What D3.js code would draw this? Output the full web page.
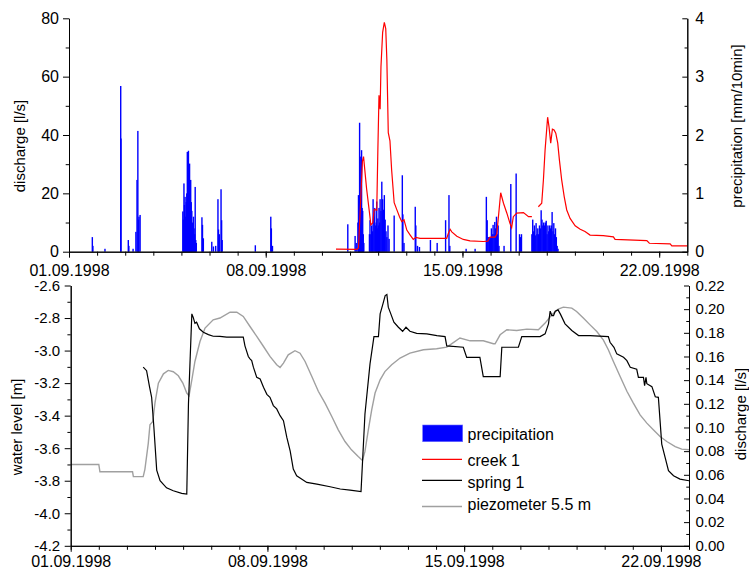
<!DOCTYPE html>
<html>
<head>
<meta charset="utf-8">
<script src="https://cdn.jsdelivr.net/npm/d3@7"></script>
<style>
  body { margin: 0; background: #fff; }
  text { font-family: "Liberation Sans", Arial, sans-serif; fill: #000; }
</style>
</head>
<body>
<svg id="chart" width="749" height="570"></svg>
<script>
// ---- data (time in days after 01.09.1998 00:00) ----
const dateTicks = ["01.09.1998", "08.09.1998", "15.09.1998", "22.09.1998"];
const dischargeTicks = [0, 20, 40, 60, 80];
const precipTicks = [0, 1, 2, 3, 4];
const levelTicks = [-4.2, -4.0, -3.8, -3.6, -3.4, -3.2, -3.0, -2.8, -2.6];
const springTicks = [0, 0.02, 0.04, 0.06, 0.08, 0.10, 0.12, 0.14, 0.16, 0.18, 0.20, 0.22];

// precipitation, mm per 10 min
const precipDay = [0.83, 0.85, 1.28, 1.84, 1.85, 2.11, 2.13, 2.28, 2.38, 2.42, 2.45, 2.47, 2.49, 2.53,
  4.05, 4.07, 4.09, 4.11, 4.13, 4.15, 4.17, 4.19, 4.21, 4.23, 4.25, 4.27, 4.29, 4.31, 4.33, 4.35, 4.37, 4.39,
  4.41, 4.43, 4.45, 4.47, 4.49, 4.51, 4.53, 4.73, 4.75, 4.78, 5.08, 5.14, 5.22, 5.30, 5.32, 5.35, 5.41, 5.43, 5.45,
  6.63, 7.18, 7.20, 7.24,
  9.92, 10.18, 10.22, 10.28, 10.30, 10.32, 10.34, 10.36, 10.38, 10.41, 10.43, 10.45, 10.47, 10.49,
  10.69, 10.71, 10.74, 10.77, 10.80, 10.82, 10.85, 10.88, 10.91, 10.93, 10.95, 10.97, 10.99, 11.01, 11.03,
  11.05, 11.07, 11.10, 11.13, 11.16, 11.19, 11.22, 11.25, 11.28, 11.31, 11.35, 11.39,
  11.57, 11.86, 11.88, 11.92, 12.32, 12.34, 12.40, 12.47, 12.86, 13.10, 13.40, 13.52, 13.55, 14.13, 14.45,
  14.85, 14.88, 14.91, 14.94, 14.97, 15.00, 15.03, 15.06, 15.09, 15.12, 15.15, 15.18, 15.21, 15.24, 15.27, 15.30,
  15.48, 15.72, 15.91, 16.03, 16.06, 16.10,
  16.47, 16.50, 16.53, 16.56, 16.59, 16.62, 16.65, 16.68, 16.71, 16.74, 16.77, 16.80, 16.83, 16.86, 16.89,
  16.92, 16.95, 16.98, 17.01, 17.04, 17.07, 17.10, 17.13, 17.16, 17.19, 17.22, 17.25, 17.28, 17.31, 17.34,
  17.37, 17.40];
const precipMm = [0.25, 0.10, 0.05, 2.84, 1.94, 0.20, 0.10, 0.05, 0.34, 1.23, 2.07, 0.55, 0.60, 0.63,
  0.69, 0.55, 1.17, 0.80, 0.94, 0.60, 0.85, 1.00, 1.71, 1.30, 1.73, 1.11, 1.51, 1.00, 1.23, 0.85, 0.70, 0.50,
  0.35, 0.60, 0.40, 0.30, 1.11, 0.20, 0.15, 0.59, 0.46, 0.23, 0.17, 0.09, 0.10, 0.90, 0.38, 0.30, 1.07, 0.54, 0.20,
  0.11, 0.60, 0.40, 0.10,
  0.47, 0.27, 0.15, 0.50, 0.97, 0.75, 2.21, 1.63, 0.80, 1.74, 0.75, 0.70, 0.30, 0.15,
  0.30, 0.54, 0.30, 0.45, 0.35, 0.90, 0.60, 0.75, 0.45, 0.50, 0.86, 0.40, 0.57, 0.45, 0.75,
  0.50, 0.90, 0.70, 1.20, 0.90, 0.72, 0.97, 0.55, 0.35, 0.25, 0.45, 0.22,
  0.62, 1.31, 0.64, 0.15, 0.77, 0.45, 0.10, 0.08, 0.20, 0.15, 0.54, 0.97, 0.10, 0.05, 0.05,
  0.94, 0.54, 0.25, 0.25, 0.25, 0.25, 0.40, 0.30, 0.46, 0.30, 0.51, 0.40, 0.60, 0.30, 0.45, 0.10,
  0.10, 1.16, 1.34, 0.30, 0.25, 0.30,
  0.30, 0.55, 0.35, 0.45, 0.28, 0.49, 0.30, 0.40, 0.30, 0.45, 0.40, 0.71, 0.55, 0.45, 0.50,
  0.45, 0.50, 0.53, 0.30, 0.45, 0.35, 0.45, 0.40, 0.45, 0.68, 0.35, 0.49, 0.30, 0.40, 0.25,
  0.10, 0.05];

// creek 1 discharge, l/s (null = no record)
const creekDay = [9.50, 10.24, 10.30, 10.38, 10.44, 10.48, 10.59, 10.69, 10.74, 10.81, 10.86, 10.95, 10.99,
  11.03, 11.07, 11.10, 11.16, 11.22, 11.27, 11.31, 11.36, 11.42, 11.48, 11.57, 11.66, 11.76, 11.84, 11.92,
  12.02, 12.14, 12.25, 12.34, 12.49, 13.44, 13.50, 13.56, 13.62, 13.80, 14.03, 14.27, 14.74, 14.90, 14.98,
  15.16, 15.22, 15.28, 15.36, 15.46, 15.58, 15.69, 15.75, 15.81, 15.93, 16.17, 16.35, 16.47, 16.58,
  16.70, 16.82, 16.88, 16.94, 17.00, 17.03, 17.08, 17.14, 17.20, 17.26, 17.32, 17.39, 17.45, 17.53, 17.62,
  17.71, 17.83, 18.01, 18.19, 18.36, 18.54, 19.01, 19.37, 19.43, 20.56, 20.65, 21.39, 21.45, 22.00];
const creekLs = [0.9, 0.8, 1.2, 18, 31, 32.6, 21.5, 13.5, 9.2, 9.9, 14.5, 14.2, 35,
  53.6, 48.8, 63.4, 75.2, 78.6, 76.5, 65.7, 40.8, 38, 28, 16.8, 14.5, 12, 10.3, 10.9,
  7.4, 5.7, 4.2, 4.9, 4.6, 4.6, 6.3, 7.7, 6.8, 5.3, 4.2, 3.7, 3.5, 3.6, 5.0,
  5.0, 6.0, 12, 20.2, 16.6, 13.2, 9.7, 8.2, 12, 13.2, 13.4, 12, 12, null,
  15.4, 16.6, 24.6, 34.9, 42.3, 46.1, 42.8, 37.2, 42, 41.7, 40.6, 37.2, 31.4, 24.6, 18.9,
  14.3, 11.4, 8.9, 7.7, 6.9, 5.7, 5.5, 5.1, 4.2, 3.8, 2.9, 2.7, 2.0, 2.0];

// spring 1 discharge, l/s
const springDay = [2.58, 2.70, 2.80, 2.88, 2.96, 3.06, 3.18, 3.41, 3.65, 3.95, 4.13, 4.19, 4.31, 4.36, 4.42,
  4.48, 4.58, 4.72, 4.90, 5.07, 5.31, 5.55, 6.14, 6.20, 6.32, 6.38, 6.44, 6.50, 6.62, 6.74, 6.86, 6.98,
  7.09, 7.21, 7.33, 7.45, 7.57, 7.69, 7.81, 7.92, 8.04, 8.16, 8.40, 8.76, 9.23, 9.59, 9.94, 10.33, 10.47,
  10.65, 10.79, 10.95, 11.01, 11.11, 11.19, 11.25, 11.30, 11.39, 11.50, 11.66, 11.81, 11.93, 12.07, 12.31,
  12.67, 13.03, 13.32, 13.38, 13.97, 14.09, 14.56, 14.68, 15.28, 15.34, 15.93, 16.05, 16.70, 16.88, 17.00,
  17.06, 17.12, 17.18, 17.24, 17.34, 17.42, 17.59, 17.83, 18.07, 18.48, 19.13, 19.19, 19.33, 19.43, 19.67,
  19.79, 19.91, 20.14, 20.20, 20.38, 20.42, 20.47, 20.50, 20.68, 20.80, 20.91, 20.97, 21.03, 21.15, 21.27,
  21.45, 21.68, 22.00];
const springLs = [0.151, 0.148, 0.135, 0.1255, 0.100, 0.064, 0.055, 0.049, 0.0465, 0.0443, 0.0437, 0.120,
  0.196, 0.193, 0.188, 0.189, 0.1834, 0.1805, 0.1785, 0.1771, 0.177, 0.1763, 0.1763, 0.169, 0.160, 0.158,
  0.1565, 0.151, 0.1424, 0.141, 0.134, 0.128, 0.1255, 0.1185, 0.1157, 0.110, 0.1058, 0.0916, 0.080, 0.0649,
  0.0592, 0.0573, 0.0536, 0.0522, 0.0499, 0.048, 0.0471, 0.0459, 0.1114, 0.1537, 0.1768, 0.1768, 0.196,
  0.2045, 0.2115, 0.2124, 0.2017, 0.196, 0.189, 0.1847, 0.1813, 0.1847, 0.1813, 0.1796, 0.1791, 0.1777,
  0.1768, 0.169, 0.1678, 0.1593, 0.1593, 0.143, 0.143, 0.1678, 0.1678, 0.1768, 0.1768, 0.1791, 0.1876,
  0.1983, 0.1946, 0.1946, 0.1983, 0.1994, 0.196, 0.1876, 0.182, 0.1777, 0.1777, 0.1768, 0.172, 0.1678,
  0.1622, 0.1593, 0.1565, 0.1509, 0.1492, 0.1424, 0.1424, 0.1354, 0.1424, 0.137, 0.1345, 0.126, 0.1255,
  0.1058, 0.086, 0.0747, 0.0635, 0.0592, 0.0564, 0.055];

// piezometer 5.5 m, water level in m
const piezoDay = [0, 1.00, 1.04, 2.20, 2.23, 2.58, 2.64, 2.76, 2.82, 2.92, 3.00, 3.12, 3.30, 3.47, 3.65, 3.83,
  3.99, 4.13, 4.21, 4.31, 4.42, 4.60, 4.78, 5.07, 5.31, 5.67, 5.91, 6.14, 6.38, 6.62, 6.86, 7.09, 7.33, 7.45,
  7.57, 7.74, 7.98, 8.16, 8.34, 8.58, 8.81, 9.05, 9.29, 9.52, 9.76, 9.99, 10.23, 10.38, 10.47, 10.59, 10.71,
  10.83, 11.01, 11.18, 11.42, 11.72, 12.07, 12.55, 13.02, 13.38, 13.50, 13.85, 14.21, 14.68, 15.04, 15.10,
  15.28, 15.52, 15.87, 16.23, 16.64, 16.88, 17.12, 17.35, 17.53, 17.83, 18.00, 18.24, 18.48, 18.72, 18.95,
  19.13, 19.31, 19.55, 19.79, 20.02, 20.26, 20.50, 20.73, 20.97, 21.21, 21.51, 21.74, 22.00];
const piezoM = [-3.70, -3.70, -3.745, -3.745, -3.775, -3.775, -3.73, -3.57, -3.456, -3.436, -3.32, -3.20,
  -3.143, -3.122, -3.13, -3.155, -3.20, -3.261, -3.278, -3.18, -3.067, -2.944, -2.862, -2.811, -2.80, -2.764,
  -2.764, -2.79, -2.852, -2.913, -2.975, -3.036, -3.087, -3.104, -3.077, -3.026, -3.001, -3.016, -3.067,
  -3.159, -3.25, -3.323, -3.405, -3.487, -3.559, -3.61, -3.651, -3.675, -3.62, -3.487, -3.364, -3.261, -3.18,
  -3.129, -3.087, -3.046, -3.016, -2.995, -2.989, -2.979, -2.965, -2.923, -2.94, -2.94, -2.958, -2.958,
  -2.903, -2.872, -2.877, -2.868, -2.872, -2.831, -2.78, -2.745, -2.733, -2.739, -2.76, -2.80, -2.842,
  -2.883, -2.934, -2.995, -3.067, -3.159, -3.25, -3.323, -3.395, -3.446, -3.487, -3.528, -3.559, -3.59,
  -3.606, -3.61];

// ---- helpers ----
const t0 = Date.UTC(1998, 8, 1);
const toDate = d => new Date(t0 + d * 864e5);
const parseDate = d3.utcParse("%d.%m.%Y");
const fmtDate = d3.utcFormat("%d.%m.%Y");
const domainX = [toDate(0), toDate(22)];
const dayTicks = d3.utcDay.range(toDate(0), toDate(22.01));
const majorDates = dateTicks.map(parseDate);
// plain hyphen-minus for negative tick labels
const fixed = n => d => d.toFixed(n);

const svg = d3.select("#chart");
svg.append("rect").attr("width", 749).attr("height", 570).attr("fill", "#fff");

function styleAxis(g, fontSize) {
  g.selectAll("path.domain").attr("stroke", "#000").attr("stroke-width", 1);
  g.selectAll(".tick line").attr("stroke", "#000").attr("stroke-width", 1);
  g.selectAll("text").attr("font-size", fontSize)
    .attr("font-family", "'Liberation Sans', Arial, sans-serif").attr("fill", "#000");
}

function timeAxes(x, yBase, pad) {
  const minor = svg.append("g").attr("transform", `translate(0,${yBase})`)
    .call(d3.axisBottom(x).tickValues(dayTicks).tickSize(4).tickSizeOuter(0).tickFormat(""));
  styleAxis(minor, 16);
  const major = svg.append("g").attr("transform", `translate(0,${yBase})`)
    .call(d3.axisBottom(x).tickValues(majorDates).tickSize(6).tickSizeOuter(0).tickPadding(pad).tickFormat(fmtDate));
  styleAxis(major, 16);
}

function valueAxis(scale, side, xPos, ticks, minorTicks, fmt, size, pad, fontSize) {
  const mk = side === "left" ? d3.axisLeft : d3.axisRight;
  const sign = side === "left" ? 1 : -1;
  const gm = svg.append("g").attr("transform", `translate(${xPos},0)`)
    .call(mk(scale).tickValues(minorTicks).tickSize(sign * size * 0.55).tickSizeOuter(0).tickFormat(""));
  styleAxis(gm, fontSize);
  const g = svg.append("g").attr("transform", `translate(${xPos},0)`)
    .call(mk(scale).tickValues(ticks).tickSize(sign * size).tickSizeOuter(0).tickPadding(pad).tickFormat(fmt));
  styleAxis(g, fontSize);
}

function axisTitle(text, x, y) {
  svg.append("text").attr("transform", `translate(${x},${y}) rotate(-90)`)
    .attr("text-anchor", "middle").attr("font-size", 15).text(text);
}

// ---- upper panel: precipitation and creek discharge ----
const xTop = d3.scaleUtc().domain(domainX).range([69, 687.3]);
const yDis = d3.scaleLinear().domain([0, 80]).range([251.7, 18.3]);
const yPre = d3.scaleLinear().domain([0, 4]).range([251.7, 18.3]);

const precip = precipDay.map((d, i) => ({ t: toDate(d), v: precipMm[i] }));
svg.append("g").selectAll("rect").data(precip).join("rect")
  .attr("x", d => xTop(d.t) - 0.7)
  .attr("width", 1.4)
  .attr("y", d => yPre(d.v))
  .attr("height", d => yPre(0) - yPre(d.v))
  .attr("fill", "#0000ff");

const creek = creekDay.map((d, i) => ({ t: toDate(d), v: creekLs[i] }));
svg.append("path").datum(creek)
  .attr("fill", "none").attr("stroke", "#ff0000").attr("stroke-width", 1.2)
  .attr("d", d3.line().defined(d => d.v !== null).x(d => xTop(d.t)).y(d => yDis(d.v)));

timeAxes(xTop, 251.7, 6.6);
valueAxis(yDis, "left", 69, dischargeTicks, [10, 30, 50, 70], fixed(0), 6, 4, 16);
valueAxis(yPre, "right", 687.3, precipTicks, [0.5, 1.5, 2.5, 3.5], fixed(0), 5, 8, 16);
axisTitle("discharge [l/s]", 25, 146);
axisTitle("precipitation [mm/10min]", 742, 126);

// ---- lower panel: spring discharge and piezometer level ----
const xBot = d3.scaleUtc().domain(domainX).range([70.7, 689]);
const yLev = d3.scaleLinear().domain([-4.2, -2.6]).range([545.8, 285.5]);
const ySpr = d3.scaleLinear().domain([0, 0.22]).range([545.8, 285.5]);

const piezo = piezoDay.map((d, i) => ({ t: toDate(d), v: piezoM[i] }));
svg.append("path").datum(piezo)
  .attr("fill", "none").attr("stroke", "#a0a0a0").attr("stroke-width", 1.4)
  .attr("d", d3.line().x(d => xBot(d.t)).y(d => yLev(d.v)));

const spring = springDay.map((d, i) => ({ t: toDate(d), v: springLs[i] }));
svg.append("path").datum(spring)
  .attr("fill", "none").attr("stroke", "#000").attr("stroke-width", 1.2)
  .attr("d", d3.line().x(d => xBot(d.t)).y(d => ySpr(d.v)));

timeAxes(xBot, 545.8, 4.3);
const levelMinor = d3.range(-4.1, -2.6, 0.2).map(v => +v.toFixed(1));
const springMinor = d3.range(0.01, 0.22, 0.02).map(v => +v.toFixed(2));
valueAxis(yLev, "left", 70.7, levelTicks, levelMinor, fixed(1), 6, 4.5, 15);
valueAxis(ySpr, "right", 689, springTicks, springMinor, fixed(2), 5, 6.5, 15);
axisTitle("water level [m]", 22, 427);
axisTitle("discharge [l/s]", 746, 414);

// ---- legend ----
const legend = svg.append("g");
legend.append("rect").attr("x", 422.7).attr("y", 425).attr("width", 40).attr("height", 16.7)
  .attr("fill", "#0000ff").attr("stroke", "#6a6aff").attr("stroke-width", 0.6);
const legendLines = [
  { label: "creek 1", color: "#ff0000", y: 459.3, base: 465.5 },
  { label: "spring 1", color: "#000", y: 480.3, base: 487.5 },
  { label: "piezometer 5.5 m", color: "#a0a0a0", y: 506.5, base: 509.5 }
];
legend.append("text").attr("x", 467.5).attr("y", 439.5).attr("font-size", 16).text("precipitation");
legendLines.forEach(d => {
  legend.append("line").attr("x1", 422).attr("x2", 462).attr("y1", d.y).attr("y2", d.y)
    .attr("stroke", d.color).attr("stroke-width", 1.3);
  legend.append("text").attr("x", 467.5).attr("y", d.base).attr("font-size", 16).text(d.label);
});
</script>
</body>
</html>
